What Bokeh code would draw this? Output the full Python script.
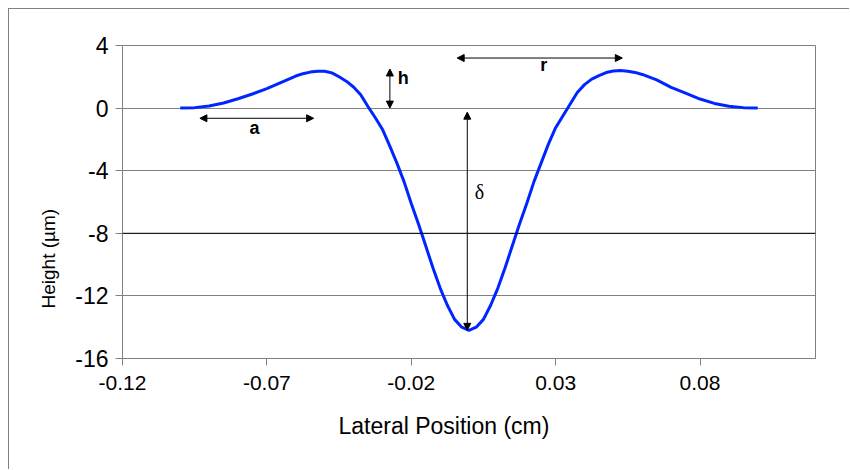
import math
from bokeh.plotting import figure
from bokeh.models import Range1d, FixedTicker, Label, Arrow, NormalHead, Span, Title
from bokeh.embed import file_html
from bokeh.resources import INLINE

# ---- data ----
pos_cm = [-0.100, -0.095, -0.090, -0.085, -0.080, -0.075, -0.070, -0.065, -0.060, -0.0575,
          -0.055, -0.0525, -0.050, -0.0475, -0.045, -0.0425, -0.040, -0.0375, -0.035, -0.0325,
          -0.030, -0.0275, -0.025, -0.0225, -0.020, -0.0175, -0.015, -0.0125, -0.010, -0.0075,
          -0.005, -0.0025, 0.000,
          0.0025, 0.005, 0.0075, 0.010, 0.0125, 0.015, 0.0175, 0.020, 0.0225, 0.025,
          0.0275, 0.030, 0.0325, 0.035, 0.0375, 0.040, 0.0425, 0.045, 0.0475, 0.050,
          0.0525, 0.055, 0.0575, 0.060, 0.065, 0.070, 0.075, 0.080, 0.085, 0.090, 0.095, 0.100]
height_um = [0.0, 0.03, 0.13, 0.33, 0.6, 0.9, 1.25, 1.65, 2.05, 2.2,
             2.3, 2.36, 2.36, 2.25, 2.0, 1.72, 1.35, 0.85, 0.1, -0.6,
             -1.35, -2.4, -3.5, -4.7, -6.1, -7.4, -8.8, -10.2, -11.5, -12.6,
             -13.5, -14.0, -14.2,
             -14.0, -13.5, -12.6, -11.5, -10.2, -8.8, -7.4, -6.1, -4.7, -3.5,
             -2.3, -1.25, -0.5, 0.25, 1.0, 1.5, 1.85, 2.08, 2.27, 2.37,
             2.4, 2.36, 2.28, 2.15, 1.8, 1.32, 0.95, 0.58, 0.3, 0.12, 0.03, 0.0]

x_ticks = [-0.12, -0.07, -0.02, 0.03, 0.08]
x_tick_labels = ["-0.12", "-0.07", "-0.02", "0.03", "0.08"]
y_ticks = [-16, -12, -8, -4, 0, 4]
y_tick_labels = ["-16", "-12", "-8", "-4", "0", "4"]

# annotation geometry (data units)
a_arrow = (-0.0932, -0.0538, -0.65)      # x0, x1, y
h_arrow = (-0.0274, 0.0, 2.5)            # x, y0, y1
r_arrow = (-0.0041, 0.0531, 3.2)         # x0, x1, y
d_arrow = (-0.0006, -14.2, -0.26)        # x, y0, y1

GRID = "#808080"
FONT = "Liberation Sans"

p = figure(width=841, height=461, output_backend="svg", toolbar_location=None,
           x_range=Range1d(-0.12, 0.12), y_range=Range1d(-16, 4),
           min_border_left=113, min_border_right=35, min_border_top=36, min_border_bottom=112,
           background_fill_color="white", border_fill_color="white")
p.styles = {"margin-left": "8px", "margin-top": "8px",
            "border-left": "1px solid #808080", "border-top": "1px solid #808080"}

p.outline_line_color = GRID
p.outline_line_width = 1

# grid
p.xgrid.grid_line_color = None
p.ygrid.grid_line_color = GRID
p.ygrid.grid_line_width = 1
p.add_layout(Span(location=-8, dimension="width", line_color="black", line_width=1))

# axes
p.xaxis.ticker = FixedTicker(ticks=x_ticks)
p.yaxis.ticker = FixedTicker(ticks=y_ticks)
p.xaxis.major_label_overrides = {t: s for t, s in zip(x_ticks, x_tick_labels)}
p.yaxis.major_label_overrides = {t: s for t, s in zip(y_ticks, y_tick_labels)}
for ax in (p.xaxis, p.yaxis):
    ax.axis_line_color = GRID
    ax.major_tick_line_color = GRID
    ax.major_tick_out = 7
    ax.major_tick_in = 0
    ax.minor_tick_line_color = None
    ax.major_label_text_color = "black"
    ax.major_label_text_font = FONT
p.xaxis.major_label_text_font_size = "21px"
p.yaxis.major_label_text_font_size = "23px"
p.xaxis.major_label_standoff = 10
p.yaxis.major_label_standoff = 7

# axis titles as side titles (offset lets them sit where they are in the picture)
p.add_layout(Title(text="Lateral Position (cm)", align="left", offset=216,
                   vertical_align="top", standoff=40, text_font=FONT, text_font_size="23px",
                   text_font_style="normal", text_color="black"), "below")
p.add_layout(Title(text="Height (µm)", align="left", offset=50,
                   vertical_align="middle", standoff=26, text_font=FONT, text_font_size="19px",
                   text_font_style="normal", text_color="black"), "left")

# curve
p.line(pos_cm, height_um, line_color="#0026ff", line_width=3, line_join="round")

# arrows
def head():
    return NormalHead(size=7, fill_color="black", line_color="black", line_width=1)

p.add_layout(Arrow(x_start=a_arrow[0], x_end=a_arrow[1], y_start=a_arrow[2], y_end=a_arrow[2],
                   start=head(), end=head(), line_color="black", line_width=1))
p.add_layout(Arrow(x_start=h_arrow[0], x_end=h_arrow[0], y_start=h_arrow[1], y_end=h_arrow[2],
                   start=head(), end=head(), line_color="black", line_width=1))
p.add_layout(Arrow(x_start=r_arrow[0], x_end=r_arrow[1], y_start=r_arrow[2], y_end=r_arrow[2],
                   start=head(), end=head(), line_color="black", line_width=1))
p.add_layout(Arrow(x_start=d_arrow[0], x_end=d_arrow[0], y_start=d_arrow[1], y_end=d_arrow[2],
                   start=head(), end=head(), line_color="black", line_width=1))

# annotation letters
p.add_layout(Label(x=-0.0743, y=-1.3, text="a", text_align="center", text_baseline="middle",
                   text_font=FONT, text_font_style="bold", text_font_size="18px", text_color="black"))
p.add_layout(Label(x=-0.0228, y=1.94, text="h", text_align="center", text_baseline="middle",
                   text_font=FONT, text_font_style="bold", text_font_size="18px", text_color="black"))
p.add_layout(Label(x=0.0259, y=2.75, text="r", text_align="center", text_baseline="middle",
                   text_font=FONT, text_font_style="bold", text_font_size="18px", text_color="black"))
p.add_layout(Label(x=0.0036, y=-5.37, text="δ", text_align="center", text_baseline="middle",
                   text_font="Liberation Serif", text_font_size="20px", text_color="black"))

open("out.html", "w").write(file_html(p, INLINE))
